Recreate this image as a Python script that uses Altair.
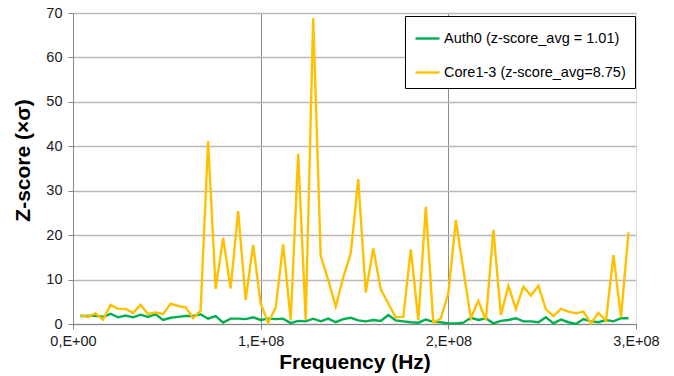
import altair as alt
import pandas as pd

freq_step_hz = 4e6
n_points = 74

auth0 = [1.8, 1.8, 1.9, 1.6, 2.3, 1.5, 1.9, 1.5, 2.1, 1.6,
         2.2, 0.9, 1.4, 1.6, 1.8, 1.8, 2.2, 1.2, 1.8, 0.3,
         1.2, 1.2, 1.1, 1.5, 0.9, 1.2, 1.1, 1.2, 0.2, 0.7,
         0.6, 1.2, 0.6, 1.2, 0.4, 1.1, 1.4, 0.8, 0.6, 0.9,
         0.7, 2.0, 0.8, 0.6, 0.4, 0.3, 1.0, 0.5, 0.4, 0.15,
         0.15, 0.3, 1.4, 0.9, 1.3, 0.15, 0.7, 0.9, 1.3, 0.6,
         0.6, 0.4, 1.5, 0.15, 1.0, 0.4, 0.0, 1.1, 0.6, 0.4,
         0.9, 0.6, 1.3, 1.3]

core13 = [2.0, 1.6, 2.4, 1.0, 4.3, 3.4, 3.4, 2.5, 4.3, 2.25,
          2.6, 2.2, 4.6, 4.05, 3.75, 1.3, 3.0, 41.2, 7.9, 19.4,
          8.0, 25.4, 5.4, 17.8, 4.6, 0.3, 3.7, 17.9, 0.9, 38.3,
          0.9, 68.8, 15.3, 9.9, 3.9, 10.5, 15.9, 32.6, 7.1, 17.0,
          7.8, 4.6, 1.5, 1.6, 16.8, 0.9, 26.4, 0.3, 1.3, 6.9,
          23.4, 12.2, 1.3, 5.2, 0.9, 21.2, 2.0, 8.6, 3.4, 8.4,
          6.4, 8.6, 3.3, 1.8, 3.4, 2.8, 2.4, 2.8, 0.15, 2.5,
          0.75, 15.5, 1.5, 20.6]

series_names = ["Auth0 (z-score_avg = 1.01)", "Core1-3 (z-score_avg=8.75)"]
series_colors = ["#00b050", "#ffc000"]
y_ticks = [0, 10, 20, 30, 40, 50, 60, 70]
x_ticks = [0, 1e8, 2e8, 3e8]

freqs = [freq_step_hz * (i + 1) for i in range(n_points)]
rows = []
for f, v in zip(freqs, auth0):
    rows.append({"freq": f, "z": v, "series": series_names[0], "ord": 0})
for f, v in zip(freqs, core13):
    rows.append({"freq": f, "z": v, "series": series_names[1], "ord": 1})
df = pd.DataFrame(rows)

FONT = "Liberation Sans"
LABEL_SIZE = 14.5
TITLE_SIZE = 21

chart = alt.Chart(df).mark_line(strokeWidth=2.4, strokeJoin="miter").encode(
    x=alt.X(
        "freq:Q",
        scale=alt.Scale(domain=[0, 3e8], nice=False, zero=True),
        axis=alt.Axis(
            values=x_ticks,
            title="Frequency (Hz)",
            labelExpr="datum.value == 0 ? '0,E+00' : format(datum.value/1e8, 'd') + ',E+08'",
            grid=True,
            gridColor="#8c8c8c",
            gridWidth=1,
            gridOpacity={"condition": {"test": "datum.value >= 299000000", "value": 0}, "value": 1},
            domainColor="#868686",
            tickColor="#868686",
            tickSize=5,
            labelPadding=5,
            labelFontSize=LABEL_SIZE,
            labelColor="#1a1a1a",
            labelFont=FONT,
            titleFont=FONT,
            titleFontSize=TITLE_SIZE,
            titleFontWeight="bold",
            titleColor="#000000",
            titleY=38,
            titleBaseline="middle",
            labelFlush=False,
        ),
    ),
    y=alt.Y(
        "z:Q",
        scale=alt.Scale(domain=[0, 70], nice=False),
        axis=alt.Axis(
            values=y_ticks,
            title="Z-score (×σ)",
            grid=True,
            gridColor="#b8b8b8",
            gridWidth=1.4,
            domainColor="#868686",
            tickColor="#868686",
            tickSize=5,
            labelPadding=6,
            labelFontSize=LABEL_SIZE,
            labelColor="#1a1a1a",
            labelFont=FONT,
            titleFont=FONT,
            titleFontSize=TITLE_SIZE,
            titleFontWeight="bold",
            titleColor="#000000",
            titleX=-50,
            titleY=147,
            titleBaseline="middle",
        ),
    ),
    color=alt.Color(
        "series:N",
        scale=alt.Scale(domain=series_names, range=series_colors),
        legend=alt.Legend(
            title=None,
            orient="none",
            legendX=332,
            legendY=3,
            symbolType="stroke",
            symbolSize=576,
            symbolStrokeWidth=2.4,
            labelFont=FONT,
            labelFontSize=LABEL_SIZE,
            labelColor="#000000",
            labelOffset=3,
            rowPadding=14,
            padding=9,
            strokeColor="#000000",
            fillColor="#ffffff",
            cornerRadius=0,
            labelLimit=400,
        ),
    ),
    order=alt.Order("ord:Q"),
).properties(
    width=563,
    height=311,
    autosize=alt.AutoSizeParams(type="none"),
    padding={"left": 73, "top": 13, "right": 38, "bottom": 52},
).configure_view(
    stroke=None
).configure(background="#ffffff")

chart.save("out.html", embed_options={"renderer": "svg", "actions": False})
